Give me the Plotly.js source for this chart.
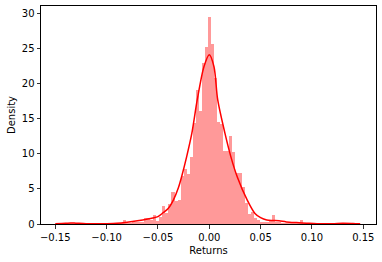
<!DOCTYPE html>
<html>
<head>
<meta charset="utf-8">
<script src="https://cdn.plot.ly/plotly-3.0.1.min.js"></script>
<style>
html,body{margin:0;padding:0;background:#fff;}
#chart{width:382px;height:262px;}
</style>
</head>
<body>
<div id="chart"></div>
<script>
// Histogram: 100 bins of daily returns (density)
const binStart = -0.1497;
const binWidth = 0.00297;
const densities = [
  0, 0, 0.05, 0.1, 0.15, 0.2, 0.1, 0, 0, 0,
  0, 0, 0, 0, 0, 0.05, 0, 0.05, 0.1, 0.1,
  0.2, 0.15, 0.55, 0.2, 0.2, 0.3, 0.25, 0.35, 0.3, 0.8,
  0.8, 0.6, 1.3, 0.45, 1.0, 2.5, 1.6, 2.8, 4.6, 3.3,
  3.4, 6.8, 7.8, 7.1, 9.6, 14.4, 19.1, 16.1, 22.9, 25.2,
  29.5, 25.7, 20.8, 14.5, 14.3, 10.4, 10.4, 12.5, 10.3, 7.3,
  7.2, 5.2, 3.0, 1.4, 1.7, 0.9, 0.6, 0.35, 0.3, 0.3,
  0.4, 1.3, 0.3, 0.3, 0.2, 0.1, 0.15, 0.1, 0.15, 0.1,
  0.6, 0.1, 0.1, 0.05, 0, 0, 0, 0, 0, 0,
  0, 0, 0, 0, 0.2, 0.1, 0, 0, 0.05, 0
];
const binCenters = densities.map((_, i) => binStart + (i + 0.5) * binWidth);

// KDE curve
const kdeX = [-0.15, -0.14, -0.135, -0.13, -0.12, -0.11, -0.1, -0.09, -0.08, -0.07,
  -0.06, -0.055, -0.05, -0.045, -0.04, -0.035, -0.03, -0.027, -0.022, -0.017,
  -0.0117, -0.0052, 0.0, 0.0046, 0.0082, 0.0153, 0.021, 0.0273, 0.037, 0.0445,
  0.05, 0.056, 0.062, 0.068, 0.075, 0.085, 0.095, 0.105, 0.12, 0.13, 0.14, 0.147];
const kdeY = [0.05, 0.1, 0.15, 0.12, 0.05, 0.04, 0.05, 0.1, 0.25, 0.45,
  0.7, 0.85, 1.05, 1.6, 2.2, 3.4, 5.2, 6.7, 9.6, 12.9,
  17.7, 22.4, 24.1, 22.4, 17.7, 12.9, 9.6, 6.7, 3.4, 1.5,
  0.9, 0.57, 0.5, 0.45, 0.3, 0.2, 0.12, 0.05, 0.05, 0.12, 0.08, 0.03];

const xTicks = [-0.15, -0.10, -0.05, 0.00, 0.05, 0.10, 0.15];
const yTicks = [0, 5, 10, 15, 20, 25, 30];

const font = {family: 'DejaVu Sans, sans-serif', size: 10, color: '#000'};

Plotly.newPlot('chart', [
  {
    type: 'bar', x: binCenters, y: densities, width: binWidth,
    marker: {color: 'rgba(255,0,0,0.4)', line: {width: 0}},
    hoverinfo: 'skip'
  },
  {
    type: 'scatter', mode: 'lines', x: kdeX, y: kdeY,
    line: {color: '#ff0000', width: 1.5, shape: 'spline', smoothing: 0.8},
    hoverinfo: 'skip'
  }
], {
  width: 382, height: 262,
  margin: {l: 41, r: 6, t: 6, b: 38},
  paper_bgcolor: '#fff', plot_bgcolor: '#fff',
  showlegend: false,
  bargap: 0,
  font: font,
  xaxis: {
    range: [-0.1639, 0.1624], tickvals: xTicks, tickformat: '.2f',
    showgrid: false, zeroline: false,
    showline: true, mirror: true, linecolor: '#000', linewidth: 1,
    ticks: 'outside', ticklen: 3.5, tickwidth: 0.8, tickcolor: '#000',
    tickfont: font,
    title: {text: 'Returns', font: font, standoff: 5}
  },
  yaxis: {
    range: [0, 31.05], tickvals: yTicks,
    showgrid: false, zeroline: false,
    showline: true, mirror: true, linecolor: '#000', linewidth: 1,
    ticks: 'outside', ticklen: 3.5, tickwidth: 0.8, tickcolor: '#000',
    tickfont: font,
    title: {text: 'Density', font: font, standoff: 4}
  }
}, {staticPlot: true, displayModeBar: false});
</script>
</body>
</html>
